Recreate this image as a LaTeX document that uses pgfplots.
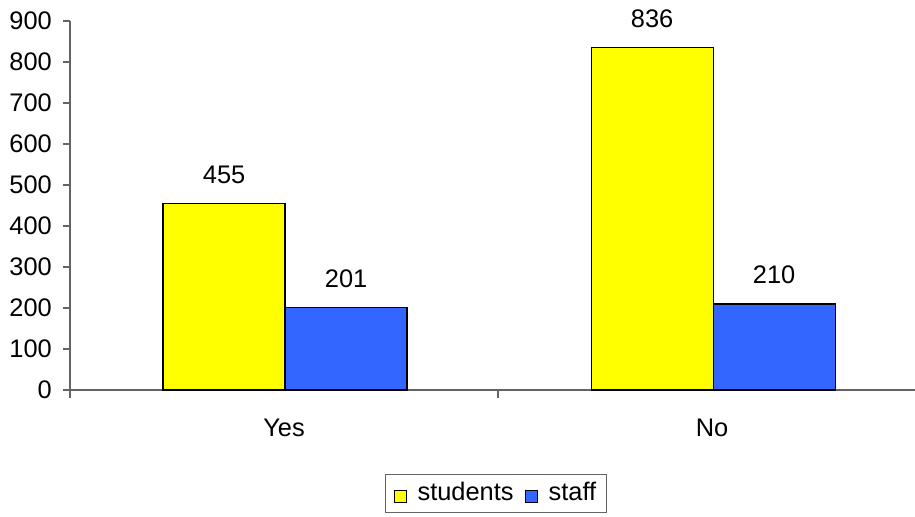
\documentclass[border=0pt]{standalone}
\usepackage{pgfplots}
\pgfplotsset{compat=1.18}
\usepackage{fontspec}
\setmainfont{Liberation Sans}
\definecolor{axisgray}{RGB}{100,100,100}
\definecolor{barblue}{RGB}{51,102,255}
\definecolor{baryellow}{RGB}{255,255,0}
\begin{document}
\fontsize{25.5}{29}\selectfont
\begin{tikzpicture}[x=1bp,y=1bp]
\path[use as bounding box] (-70,-127) rectangle (845,390);
\begin{axis}[
  at={(0,0)}, anchor=south west,
  scale only axis, width=845bp, height=369bp,
  xmin=0, xmax=1.974, ymin=0, ymax=900,
  axis x line=bottom, axis y line=left,
  axis line style={-, draw=axisgray, line width=1.2bp},
  ytick={0,100,...,900},
  xtick={0.5,1.5}, xticklabels={Yes,No},
  minor xtick={0,1},
  major x tick style={draw=none},
  tick style={draw=axisgray, line width=1.2bp},
  tick align=outside, major tick length=7bp, minor tick length=8bp,
  yticklabel style={inner sep=0pt, xshift=-11bp},
  xticklabel style={inner sep=0pt, yshift=-22bp},
  /pgf/number format/assume math mode=true,
  clip=false,
  legend style={at={(0.504,0)}, anchor=north, yshift=-84bp, draw=axisgray, line width=1bp,
    legend columns=2, inner xsep=8bp, inner ysep=6bp,
    font=\fontsize{25.5}{29}\selectfont,
    /tikz/every odd column/.append style={column sep=9bp},
    /tikz/every even column/.append style={column sep=9bp}},
  legend image code/.code={\draw[#1,line width=1bp] (0bp,-9bp) rectangle (12bp,3bp);},
  nodes near coords style={font=\fontsize{25.5}{29}\selectfont, anchor=south, inner sep=0pt, yshift=19bp, text=black},
]
\addplot[ybar, bar shift=0pt, bar width=0.285, fill=baryellow, draw=black, line width=1.3bp, nodes near coords]
  coordinates {(0.36,455) (1.36,836)};
\addlegendentry{students}
\addplot[ybar, bar shift=0pt, bar width=0.285, fill=barblue, draw=black, line width=1.3bp, nodes near coords]
  coordinates {(0.645,201) (1.645,210)};
\addlegendentry{staff}
\end{axis}
\end{tikzpicture}
\end{document}
